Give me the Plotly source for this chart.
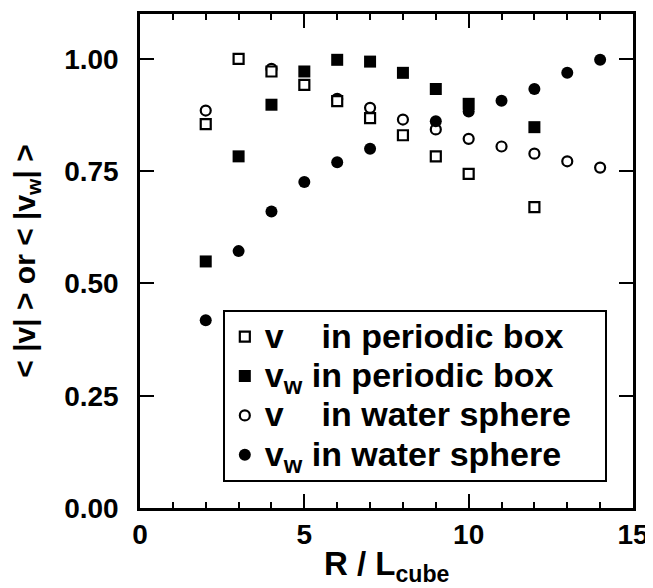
import plotly.graph_objects as go

# v in periodic box (open squares)
x_v_box = [2, 3, 4, 5, 6, 7, 8, 9, 10, 12]
y_v_box = [0.855, 1.00, 0.972, 0.942, 0.906, 0.868, 0.830, 0.783, 0.744, 0.670]

# v_w in periodic box (filled squares)
x_vw_box = [2, 3, 4, 5, 6, 7, 8, 9, 10, 12]
y_vw_box = [0.549, 0.783, 0.898, 0.972, 0.998, 0.994, 0.969, 0.933, 0.900, 0.848]

# v in water sphere (open circles)
x_v_sph = [2, 4, 6, 7, 8, 9, 10, 11, 12, 13, 14]
y_v_sph = [0.885, 0.978, 0.911, 0.891, 0.865, 0.843, 0.822, 0.805, 0.789, 0.772, 0.758]

# v_w in water sphere (filled circles)
x_vw_sph = [2, 3, 4, 5, 6, 7, 9, 10, 11, 12, 13, 14]
y_vw_sph = [0.418, 0.572, 0.660, 0.726, 0.770, 0.800, 0.861, 0.883, 0.907, 0.933, 0.969, 0.998]

x_ticks = [0, 5, 10, 15]
y_ticks = [0.0, 0.25, 0.5, 0.75, 1.0]

FONT = "Liberation Sans, Arial, Helvetica, sans-serif"
NB = "\u00a0"


def leg(txt):
    return '<span style="font-size:34px">' + txt + NB * 3 + "</span>"


fig = go.Figure()

fig.add_trace(go.Scatter(
    x=x_v_sph, y=y_v_sph, mode="markers",
    name=leg("v" + NB * 3 + " in water sphere"), legendrank=3,
    marker=dict(symbol="circle", size=10, color="white",
                line=dict(color="black", width=2.2)),
))
fig.add_trace(go.Scatter(
    x=x_vw_sph, y=y_vw_sph, mode="markers",
    name=leg("v<sub>w</sub> in water sphere"), legendrank=4,
    marker=dict(symbol="circle", size=12, color="black",
                line=dict(color="black", width=0)),
))
fig.add_trace(go.Scatter(
    x=x_v_box, y=y_v_box, mode="markers",
    name=leg("v" + NB * 3 + " in periodic box"), legendrank=1,
    marker=dict(symbol="square", size=10, color="white",
                line=dict(color="black", width=2.2)),
))
fig.add_trace(go.Scatter(
    x=x_vw_box, y=y_vw_box, mode="markers",
    name=leg("v<sub>w</sub> in periodic box"), legendrank=2,
    marker=dict(symbol="square", size=12, color="black",
                line=dict(color="black", width=0)),
))

axis_common = dict(
    showline=True, linecolor="black", linewidth=2.5, mirror="ticks",
    ticks="inside", ticklen=14, tickwidth=2, tickcolor="black",
    showgrid=False, zeroline=False, automargin=False,
    tickfont=dict(family=FONT, size=28, color="black", weight="bold"),
)

fig.update_xaxes(
    range=[0, 15], tickvals=x_ticks, ticktext=[str(v) for v in x_ticks],
    minor=dict(dtick=1, ticks="inside", ticklen=6, tickwidth=2, tickcolor="black"),
    ticklabelstandoff=0,
    **axis_common,
)
fig.update_yaxes(
    range=[0, 1.1], tickvals=y_ticks, ticktext=["%.2f" % v for v in y_ticks],
    ticklabelstandoff=13,
    title=dict(text="< |v| > or < |v<sub>w</sub>| >",
               font=dict(family=FONT, size=30, color="black", weight="bold"),
               standoff=20),
    **axis_common,
)

fig.add_annotation(
    text="R / L<sub>cube</sub>", xref="paper", yref="paper",
    x=0.5, y=-0.07, xanchor="center", yanchor="top", showarrow=False,
    font=dict(family=FONT, size=33, color="black", weight="bold"),
)

fig.update_layout(
    width=653, height=588,
    margin=dict(l=132, r=28, t=6, b=88),
    paper_bgcolor="white", plot_bgcolor="white",
    showlegend=True,
    legend=dict(
        x=0.168, y=0.401, xanchor="left", yanchor="top",
        bgcolor="white", bordercolor="black", borderwidth=2,
        font=dict(family=FONT, size=28, color="black", weight="bold"),
        itemwidth=30, tracegroupgap=0,
    ),
)

fig.write_html("out.html")
